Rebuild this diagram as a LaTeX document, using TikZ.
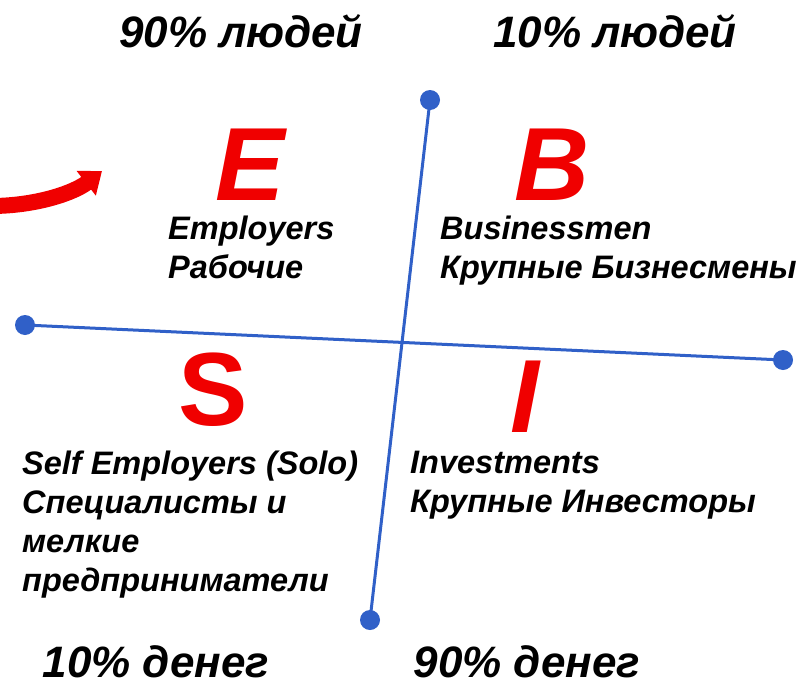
\documentclass[tikz,border=0pt]{standalone}
\usepackage{fontspec}
\setmainfont{Liberation Sans}
\usetikzlibrary{arrows.meta}
\definecolor{axisblue}{RGB}{48,96,200}
\definecolor{esbired}{RGB}{240,0,0}
\tikzset{
  axis/.style={draw=axisblue,line width=3pt},
  enddot/.style={circle,fill=axisblue,minimum size=20pt,inner sep=0pt},
  bigletter/.style={text=esbired,font=\fontsize{104}{104}\selectfont\bfseries\itshape,inner sep=0pt,anchor=base},
  headline/.style={font=\fontsize{44}{44}\selectfont\bfseries\itshape,inner sep=0pt,anchor=base},
  quadtext/.style={font=\fontsize{32.5}{39}\selectfont\bfseries\itshape,inner sep=0pt,anchor=north west,align=left}
}
\begin{document}
\begin{tikzpicture}[x=1pt,y=-1pt]
    \useasboundingbox[fill=white] (0,0) rectangle (811,688);

    \node[headline] (peopleA) at (241,47) {90\% людей};
    \node[headline] (peopleB) at (615,47) {10\% людей};
    \node[headline] (moneyA) at (156,677) {10\% денег};
    \node[headline] (moneyB) at (527,677) {90\% денег};

    \node[enddot] (top) at (430,100) {};
    \node[enddot] (bottom) at (370,620) {};
    \node[enddot] (left) at (25,325) {};
    \node[enddot] (right) at (783,360) {};
    \draw[axis] (top.center) -- (bottom.center);
    \draw[axis] (left.center) -- (right.center);

    \node[bigletter] (E) at (250,200) {E};
    \node[bigletter] (B) at (552,200) {B};
    \node[bigletter,font=\fontsize{104}{104}\selectfont\bfseries] (S) at (213,425) {S};
    \node[bigletter] (I) at (525,432) {I};

    \node[quadtext] (Etext) at (168,216) {Employers\\Рабочие};
    \node[quadtext] (Btext) at (440,216) {Businessmen\\Крупные Бизнесмены};
    \node[quadtext] (Stext) at (22,451) {Self Employers (Solo)\\Специалисты и\\мелкие\\предприниматели};
    \node[quadtext] (Itext) at (410,451) {Investments\\Крупные Инвесторы};

    \coordinate (arrowstart) at (-5,206);
    \coordinate (arrowend) at (102,171);
    \draw[esbired,line width=16pt,-{Triangle[width=30pt,length=20pt]}] (arrowstart) .. controls (40,205) and (75,192) .. (arrowend);
\end{tikzpicture}
\end{document}
